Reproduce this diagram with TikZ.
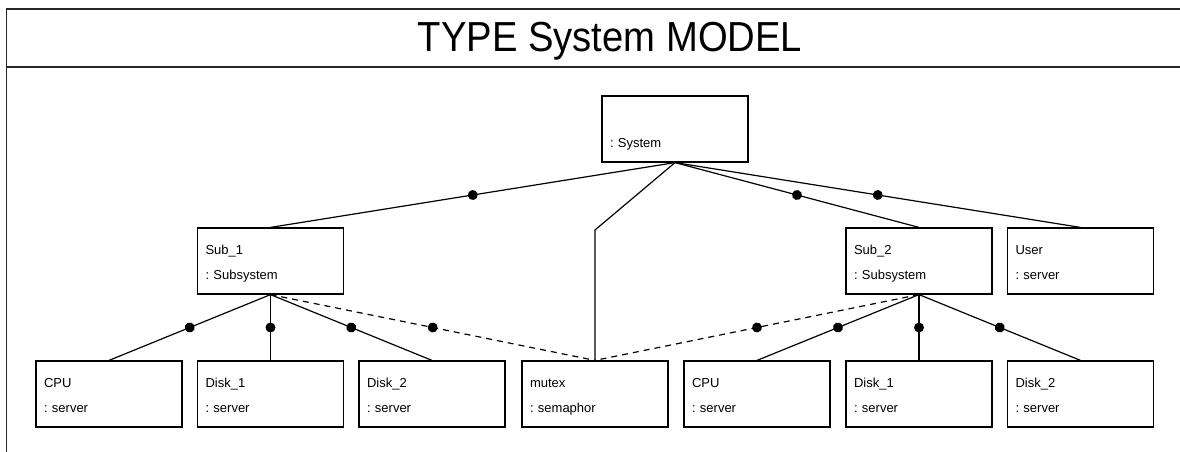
\documentclass[tikz,border=0pt]{standalone}
\usepackage{fontspec}
\setmainfont{Liberation Sans}
\usepackage{tikz}
\usetikzlibrary{decorations.markings}
\tikzset{unit/.style={draw, line width=1.2pt, rectangle, minimum width=146pt, minimum height=66pt, inner xsep=8pt, text width=130pt, align=left, font=\frenchspacing\fontsize{13}{25}\selectfont}}
\tikzset{assoc/.style={line width=1.2pt, postaction={decorate, decoration={markings, mark=at position #1 with {\fill (0,0) circle [radius=5pt];}}}}}
\tikzset{assoc/.default=0.5}
\tikzset{dep/.style={line width=1.2pt, dash pattern=on 6pt off 5pt}}
\newcommand{\topline}{\rule{0pt}{15.5pt}}
\newcommand{\botline}{\rule[-4pt]{0pt}{4pt}}

\begin{document}
\begin{tikzpicture}[x=1pt, y=-1pt]
            \useasboundingbox (0, 0) rectangle (1180, 452);
            % frame and title
            \draw[line width=1.5pt, black!85] (6.5, 452) -- (6.5, 9) -- (1180, 9);
            \draw[line width=1.5pt, black!85] (6.5, 67) -- (1180, 67);
            \node[anchor=base west, inner sep=0pt] (title) at (417.5, 52) {\scalebox{0.91}[1]{\fontsize{42}{48}\selectfont TYPE System MODEL}};
            % objects
            \node[unit] (sys) at (675, 129) {\topline\\: System\botline};
            \node[unit] (sub1) at (270.5, 261) {\topline Sub\_1\\: Subsystem\botline};
            \node[unit] (sub2) at (919, 261) {\topline Sub\_2\\: Subsystem\botline};
            \node[unit] (user) at (1080.5, 261) {\topline User\\: server\botline};
            \node[unit] (cpu1) at (109, 394) {\topline CPU\\: server\botline};
            \node[unit] (disk11) at (270.5, 394) {\topline Disk\_1\\: server\botline};
            \node[unit] (disk12) at (432, 394) {\topline Disk\_2\\: server\botline};
            \node[unit] (mutex) at (595, 394) {\topline mutex\\: semaphor\botline};
            \node[unit] (cpu2) at (757, 394) {\topline CPU\\: server\botline};
            \node[unit] (disk21) at (919, 394) {\topline Disk\_1\\: server\botline};
            \node[unit] (disk22) at (1080.5, 394) {\topline Disk\_2\\: server\botline};
            % links
            \foreach \to in {sub1, sub2, user} {
                \draw[assoc] (sys.south) -- (\to.north);
            }
            \coordinate (bend) at (mutex.north |- 0, 230);
            \draw[line width=1.2pt] (sys.south) -- (bend) -- (mutex.north);
            \foreach \to in {cpu1, disk11, disk12} {
                \draw[assoc] (sub1.south) -- (\to.north);
            }
            \foreach \to in {cpu2, disk21, disk22} {
                \draw[assoc] (sub2.south) -- (\to.north);
            }
            \draw[assoc, dep] (sub1.south) -- (mutex.north);
            \draw[assoc, dep] (sub2.south) -- (mutex.north);
        \end{tikzpicture}
\end{document}
